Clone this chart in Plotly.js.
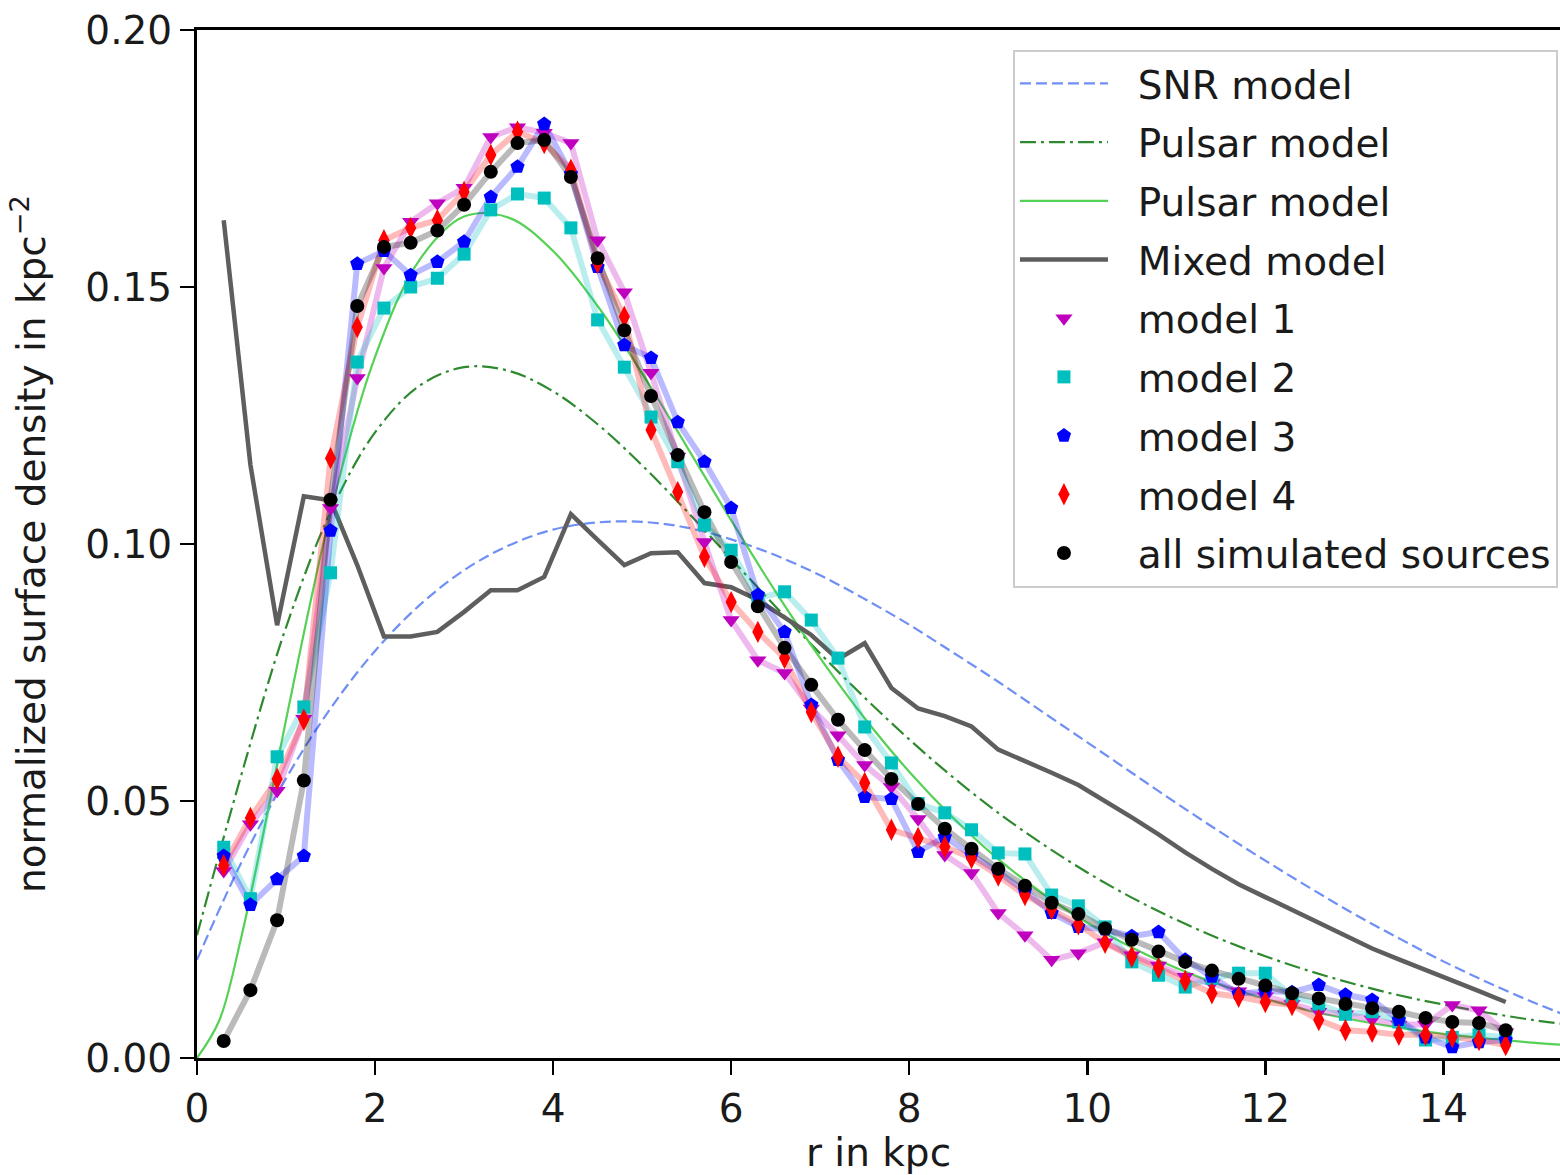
<!DOCTYPE html>
<html>
<head>
<meta charset="utf-8">
<script src="https://cdn.plot.ly/plotly-3.0.1.min.js"></script>
<style>html,body{margin:0;padding:0;background:#fff;}#chart{width:1560px;height:1175px;}</style>
</head>
<body>
<div id="chart"></div>
<script>
// radial bins (kpc)
const rBins = [0.3,0.6,0.9,1.2,1.5,1.8,2.1,2.4,2.7,3.0,3.3,3.6,3.9,4.2,4.5,4.8,5.1,5.4,5.7,6.0,6.3,6.6,6.9,7.2,7.5,7.8,8.1,8.4,8.7,9.0,9.3,9.6,9.9,10.2,10.5,10.8,11.1,11.4,11.7,12.0,12.3,12.6,12.9,13.2,13.5,13.8,14.1,14.4,14.7];

const model1 = [0.0364,0.0455,0.052,0.066,0.107,0.1323,0.1537,0.1627,0.1663,0.1693,0.1792,0.1811,0.1800,0.178,0.1591,0.149,0.1333,0.117,0.1004,0.0852,0.0774,0.0749,0.0680,0.0628,0.057,0.0527,0.0465,0.0395,0.036,0.0282,0.0239,0.0191,0.0204,0.0225,0.0200,0.0180,0.0158,0.0145,0.013,0.012,0.0105,0.009,0.0085,0.0075,0.0065,0.0065,0.0103,0.0093,0.005];
const model2 = [0.041,0.031,0.0586,0.0683,0.0944,0.1354,0.1459,0.15,0.1517,0.1564,0.165,0.1681,0.1673,0.1615,0.1436,0.1344,0.1247,0.116,0.1037,0.0988,0.0895,0.0907,0.0852,0.0778,0.0644,0.0574,0.0495,0.0477,0.0444,0.0399,0.0397,0.0317,0.0296,0.0255,0.0187,0.0161,0.0138,0.0155,0.0165,0.0165,0.012,0.0105,0.0085,0.009,0.007,0.0035,0.004,0.0045,0.004];
const model3 = [0.0393,0.0298,0.0348,0.0393,0.1026,0.1545,0.157,0.1523,0.1549,0.1588,0.1675,0.1734,0.1817,0.172,0.1539,0.1387,0.1362,0.1237,0.116,0.107,0.0901,0.0829,0.0687,0.058,0.0508,0.0504,0.0401,0.043,0.0395,0.0362,0.0325,0.0282,0.0255,0.025,0.0237,0.0245,0.0191,0.0158,0.0125,0.013,0.0128,0.0142,0.0123,0.0113,0.0074,0.004,0.0021,0.0031,0.0035];
const model4 = [0.0375,0.0467,0.0543,0.0658,0.1167,0.1422,0.1591,0.1615,0.163,0.1685,0.1757,0.1802,0.178,0.1728,0.1547,0.1442,0.1222,0.1101,0.0975,0.0887,0.0829,0.0778,0.0673,0.0586,0.0535,0.0444,0.0428,0.0411,0.0389,0.0355,0.0317,0.029,0.026,0.0224,0.0197,0.0175,0.015,0.0126,0.0119,0.0109,0.0103,0.0074,0.0054,0.0051,0.0045,0.0045,0.0041,0.0035,0.0025];
const allSources = [0.0033,0.0132,0.0268,0.054,0.1086,0.1463,0.1578,0.1586,0.161,0.166,0.1724,0.178,0.1786,0.1714,0.1556,0.1416,0.1288,0.1173,0.1062,0.0965,0.0879,0.0798,0.0726,0.0658,0.0599,0.0543,0.0494,0.0446,0.0407,0.0368,0.0335,0.0302,0.028,0.0252,0.023,0.0207,0.0187,0.017,0.0154,0.0141,0.0126,0.0116,0.0105,0.0097,0.009,0.0078,0.007,0.0068,0.0054];
const mixedModel = [0.163,0.1154,0.0842,0.1093,0.1085,0.0959,0.0820,0.0820,0.0829,0.0868,0.0910,0.0910,0.0936,0.1058,0.1008,0.0959,0.0982,0.0984,0.0924,0.0916,0.0891,0.0856,0.0823,0.0776,0.0807,0.0720,0.0680,0.0665,0.0645,0.0600,0.0578,0.0555,0.0531,0.0500,0.0468,0.0435,0.0400,0.0368,0.0338,0.0313,0.0288,0.0263,0.0238,0.0213,0.0192,0.0172,0.0152,0.0130,0.0109];

// smooth model curves, read along r
const rCurve = [0,0.5,1,1.5,2,2.5,3,3.5,4,4.5,5,5.5,6,6.5,7,7.5,8,8.5,9,9.5,10,10.5,11,11.5,12,12.5,13,13.5,14,14.5,15,15.5];
const snrModel = [0.0191,0.0381,0.0544,0.0680,0.0792,0.0881,0.0949,0.0997,0.1028,0.1042,0.1043,0.1032,0.1009,0.0978,0.0939,0.0893,0.0843,0.0788,0.0732,0.0673,0.0614,0.0555,0.0496,0.0439,0.0384,0.0331,0.0280,0.0233,0.0188,0.0147,0.0109,0.0075];
const pulsarModelA = [0.0239,0.0552,0.0838,0.1062,0.1217,0.1308,0.1344,0.1337,0.1297,0.1233,0.1153,0.1064,0.0971,0.0878,0.0787,0.0701,0.0620,0.0545,0.0477,0.0416,0.0361,0.0312,0.0269,0.0231,0.0198,0.0169,0.0144,0.0122,0.0104,0.0088,0.0074,0.0063];
const rCurveB = [0,0.25,0.5,0.75,1,1.5,2,2.5,3,3.5,4,4.5,5,5.5,6,6.5,7,7.5,8,8.5,9,9.5,10,10.5,11,11.5,12,12.5,13,13.5,14,14.5,15,15.5];
const pulsarModelB = [0,0.0073,0.0237,0.0441,0.0658,0.1060,0.1364,0.1553,0.1637,0.1635,0.1570,0.1463,0.1332,0.1190,0.1046,0.0907,0.0778,0.0661,0.0557,0.0466,0.0387,0.0320,0.0263,0.0215,0.0175,0.0142,0.0115,0.0092,0.0074,0.0059,0.0047,0.0038,0.0030,0.0024];

const FONT = 'DejaVu Sans, Liberation Sans, sans-serif';
const FS = 39;
const pad = '\u00a0\u00a0';

const traces = [
  {x: rCurve, y: snrModel, name: pad + 'SNR model', mode: 'lines', line: {color: '#6f8ff5', width: 2.2, dash: '11px,5px', shape: 'spline'}, legendgroup: 'a'},
  {x: rCurve, y: pulsarModelA, name: pad + 'Pulsar model', mode: 'lines', line: {color: '#2f8a2f', width: 2.2, dash: '16px,5px,3px,5px', shape: 'spline'}, legendgroup: 'b'},
  {x: rCurveB, y: pulsarModelB, name: pad + 'Pulsar model', mode: 'lines', line: {color: '#55d155', width: 2.2, shape: 'spline'}, legendgroup: 'c'},
  {x: rBins, y: mixedModel, name: pad + 'Mixed model', mode: 'lines', line: {color: '#5e5e5e', width: 4.5}, legendgroup: 'd'},
];

const series = [
  {y: model1, name: 'model 1', rgb: '191,0,191', symbol: 'triangle-down', size: 15, g: 'e'},
  {y: model2, name: 'model 2', rgb: '0,191,191', symbol: 'square', size: 13, g: 'f'},
  {y: model3, name: 'model 3', rgb: '0,0,255', symbol: 'pentagon', size: 15, g: 'g'},
  {y: model4, name: 'model 4', rgb: '255,0,0', symbol: 'diamond-tall', size: 16, g: 'h'},
  {y: allSources, name: 'all simulated sources', rgb: '0,0,0', symbol: 'circle', size: 14, g: 'i'},
];
series.forEach(s => {
  traces.push({x: rBins, y: s.y, mode: 'lines', showlegend: false, hoverinfo: 'skip',
    line: {color: 'rgba(' + s.rgb + ',0.27)', width: 6}});
});
series.forEach(s => {
  traces.push({x: rBins, y: s.y, name: pad + s.name, mode: 'markers', legendgroup: s.g,
    marker: {color: 'rgb(' + s.rgb + ')', symbol: s.symbol, size: s.size, line: {width: 0}}});
});

const layout = {
  width: 1560, height: 1175,
  margin: {l: 197, r: 0, t: 30, b: 117, pad: 0},
  paper_bgcolor: '#ffffff', plot_bgcolor: '#ffffff',
  font: {family: FONT, size: FS, color: '#1a1a1a'},
  showlegend: true,
  legend: {
    x: 0.9985, xanchor: 'right', y: 0.981, yanchor: 'top',
    bgcolor: 'rgba(255,255,255,0.85)', bordercolor: '#cccccc', borderwidth: 2,
    font: {family: FONT, size: FS, color: '#1a1a1a'},
    traceorder: 'grouped', tracegroupgap: 5, itemwidth: 88
  },
  xaxis: {
    range: [0, 15.31], tickvals: [0,2,4,6,8,10,12,14], ticktext: ['0','2','4','6','8','10','12','14'],
    ticks: 'outside', ticklen: 14, tickwidth: 2.5, tickcolor: '#000',
    showline: true, linecolor: '#000', linewidth: 3, mirror: true,
    showgrid: false, zeroline: false, automargin: false,
    tickfont: {family: FONT, size: FS, color: '#1a1a1a'},
    title: {text: 'r in kpc', standoff: 16, font: {family: FONT, size: FS, color: '#1a1a1a'}}
  },
  yaxis: {
    range: [0, 0.2], tickvals: [0, 0.05, 0.1, 0.15, 0.2], ticktext: ['0.00','0.05','0.10','0.15','0.20'],
    ticks: 'outside', ticklen: 14, tickwidth: 2.5, tickcolor: '#000',
    showline: true, linecolor: '#000', linewidth: 3, mirror: false,
    showgrid: false, zeroline: false, automargin: false,
    tickfont: {family: FONT, size: FS, color: '#1a1a1a'},
    title: {text: 'normalized surface density in kpc<sup>−2</sup>', standoff: 28, font: {family: FONT, size: FS, color: '#1a1a1a'}}
  }
};

Plotly.newPlot('chart', traces, layout, {displayModeBar: false, staticPlot: true});
</script>
</body>
</html>
